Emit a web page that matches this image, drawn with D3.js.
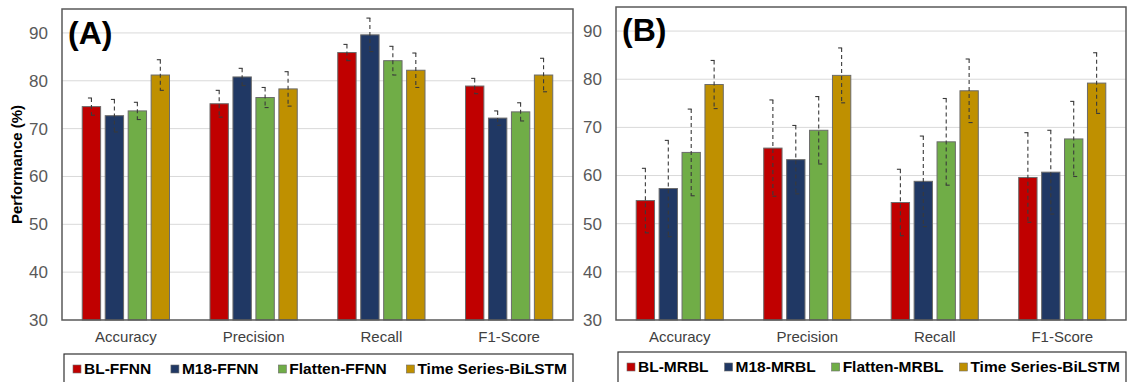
<!DOCTYPE html>
<html lang="en">
<head>
<meta charset="UTF-8">
<title>Performance bars (A) / (B)</title>
<style>
  html, body { margin: 0; padding: 0; background: #fff; }
  svg { display: block; font-family: "Liberation Sans", Arial, sans-serif; }
</style>
</head>
<body>
<svg id="chart" width="1127" height="382"></svg>
<script src="https://cdn.jsdelivr.net/npm/d3@7"></script>
<script>
// categories and tick labels
const categories = ["Accuracy", "Precision", "Recall", "F1-Score"];
const yTicks = [30, 40, 50, 60, 70, 80, 90];

// panel A series
const seriesA = ["BL-FFNN", "M18-FFNN", "Flatten-FFNN", "Time Series-BiLSTM"];
const aBL = [74.6, 75.2, 85.9, 78.9],   aBLerr = [1.8, 2.8, 1.7, 1.6];
const aM18 = [72.7, 80.8, 89.6, 72.2],  aM18err = [3.4, 1.8, 3.5, 1.5];
const aFlat = [73.7, 76.5, 84.2, 73.5], aFlatErr = [1.8, 2.1, 3.0, 1.9];
const aTS = [81.2, 78.3, 82.2, 81.2],   aTSerr = [3.2, 3.6, 3.6, 3.5];

// panel B series
const seriesB = ["BL-MRBL", "M18-MRBL", "Flatten-MRBL", "Time Series-BiLSTM"];
const bBL = [54.8, 65.7, 54.4, 59.6],   bBLerr = [6.7, 10.0, 6.9, 9.3];
const bM18 = [57.3, 63.3, 58.8, 60.7],  bM18err = [10.0, 7.1, 9.4, 8.7];
const bFlat = [64.8, 69.4, 67.0, 67.6], bFlatErr = [9.0, 7.0, 9.0, 7.8];
const bTS = [78.9, 80.8, 77.6, 79.2],   bTSerr = [5.0, 5.7, 6.6, 6.3];

const colors = ["#C00000", "#203864", "#70AD47", "#BF9000"];

const svg = d3.select("#chart");

function drawPanel(opt) {
  const { left, top, right, bottom, names, means, errs, tag, tagX, tagY, legend, yTitle } = opt;
  const w = right - left, h = bottom - top;
  const g = svg.append("g").attr("transform", `translate(${left},${top})`);

  const y = d3.scaleLinear().domain([30, 95]).range([h, 0]);
  const x0 = d3.scaleBand().domain(categories).range([0, w]).paddingInner(0.317).paddingOuter(0.1585);
  const x1 = d3.scaleBand().domain(d3.range(names.length)).range([0, x0.bandwidth()]).paddingInner(0.2).paddingOuter(0);

  // gridlines
  g.append("g").selectAll("line").data(yTicks.filter(t => t > 30)).join("line")
    .attr("x1", 0).attr("x2", w)
    .attr("y1", d => y(d)).attr("y2", d => y(d))
    .attr("stroke", "#d9d9d9").attr("stroke-width", 1);

  // y axis labels
  const yAxis = d3.axisLeft(y).tickValues(yTicks).tickSize(0).tickPadding(14);
  const ya = g.append("g").call(yAxis);
  ya.select(".domain").remove();
  ya.selectAll("text").attr("font-size", 17).attr("fill", "#595959")
    .attr("font-family", "Liberation Sans, Arial, sans-serif");

  // x axis labels
  const xAxis = d3.axisBottom(x0).tickSize(0).tickPadding(11);
  const xa = g.append("g").attr("transform", `translate(0,${h})`).call(xAxis);
  xa.select(".domain").remove();
  xa.selectAll("text").attr("font-size", 15).attr("fill", "#404040")
    .attr("font-family", "Liberation Sans, Arial, sans-serif");

  // bars
  const rows = [];
  categories.forEach((c, ci) => {
    names.forEach((n, si) => rows.push({ c, si, v: means[si][ci], e: errs[si][ci] }));
  });
  g.append("g").selectAll("rect").data(rows).join("rect")
    .attr("x", d => x0(d.c) + x1(d.si))
    .attr("y", d => y(d.v))
    .attr("width", x1.bandwidth())
    .attr("height", d => h - y(d.v))
    .attr("fill", d => colors[d.si])
    .attr("stroke", "#6b6b6b").attr("stroke-width", 1);

  // error bars: dashed stem, short one-sided caps
  const eg = g.append("g").attr("stroke", "#3a3a3a").attr("stroke-width", 1.1);
  const cx = d => x0(d.c) + x1(d.si) + x1.bandwidth() / 2;
  eg.selectAll("line.v").data(rows).join("line").attr("class", "v")
    .attr("x1", cx).attr("x2", cx)
    .attr("y1", d => y(d.v + d.e)).attr("y2", d => y(d.v - d.e))
    .attr("stroke-dasharray", "4,3");
  eg.selectAll("line.t").data(rows).join("line").attr("class", "t")
    .attr("x1", d => cx(d) - 3.5).attr("x2", d => cx(d) + 0.5)
    .attr("y1", d => y(d.v + d.e)).attr("y2", d => y(d.v + d.e));
  eg.selectAll("line.b").data(rows).join("line").attr("class", "b")
    .attr("x1", d => cx(d) - 0.5).attr("x2", d => cx(d) + 3.5)
    .attr("y1", d => y(d.v - d.e)).attr("y2", d => y(d.v - d.e));

  // frame
  g.append("rect").attr("x", 0).attr("y", 0).attr("width", w).attr("height", h)
    .attr("fill", "none").attr("stroke", "#595959").attr("stroke-width", 1.5);

  // panel tag
  svg.append("text").attr("x", tagX).attr("y", tagY)
    .attr("font-size", 32).attr("font-weight", "bold").attr("fill", "#000")
    .text(tag);

  if (yTitle) {
    svg.append("text")
      .attr("transform", `translate(22,${top + h / 2}) rotate(-90)`)
      .attr("text-anchor", "middle")
      .attr("font-size", 15).attr("font-weight", "bold").attr("fill", "#000")
      .text(yTitle);
  }

  // legend: items spread across the box
  const lg = svg.append("g");
  lg.append("rect").attr("x", legend.x).attr("y", legend.y).attr("width", legend.w).attr("height", 40)
    .attr("fill", "#fff").attr("stroke", "#333").attr("stroke-width", 1.2);
  const items = names.map((n, i) => {
    const sq = lg.append("rect").attr("y", legend.y + 11).attr("width", 8).attr("height", 8)
      .attr("fill", colors[i]).attr("stroke", "#6b6b6b").attr("stroke-width", 0.6);
    const t = lg.append("text").attr("y", legend.y + 20)
      .attr("font-size", 15.5).attr("font-weight", "bold").attr("fill", "#000")
      .text(n);
    return { sq, t, len: 11 + t.node().getComputedTextLength() };
  });
  const used = d3.sum(items, d => d.len);
  const gap = (legend.w - 9 - 6 - used) / (items.length - 1);
  let lx = legend.x + 9;
  items.forEach(d => {
    d.sq.attr("x", lx);
    d.t.attr("x", lx + 11);
    lx += d.len + gap;
  });
}

drawPanel({
  left: 62, top: 9, right: 573, bottom: 320,
  names: seriesA, means: [aBL, aM18, aFlat, aTS], errs: [aBLerr, aM18err, aFlatErr, aTSerr],
  tag: "(A)", tagX: 68, tagY: 44, yTitle: "Performance (%)",
  legend: { x: 64, y: 354, w: 509 }
});

drawPanel({
  left: 616, top: 7, right: 1126, bottom: 320,
  names: seriesB, means: [bBL, bM18, bFlat, bTS], errs: [bBLerr, bM18err, bFlatErr, bTSerr],
  tag: "(B)", tagX: 622, tagY: 41, yTitle: null,
  legend: { x: 618, y: 352, w: 508 }
});
</script>
</body>
</html>
